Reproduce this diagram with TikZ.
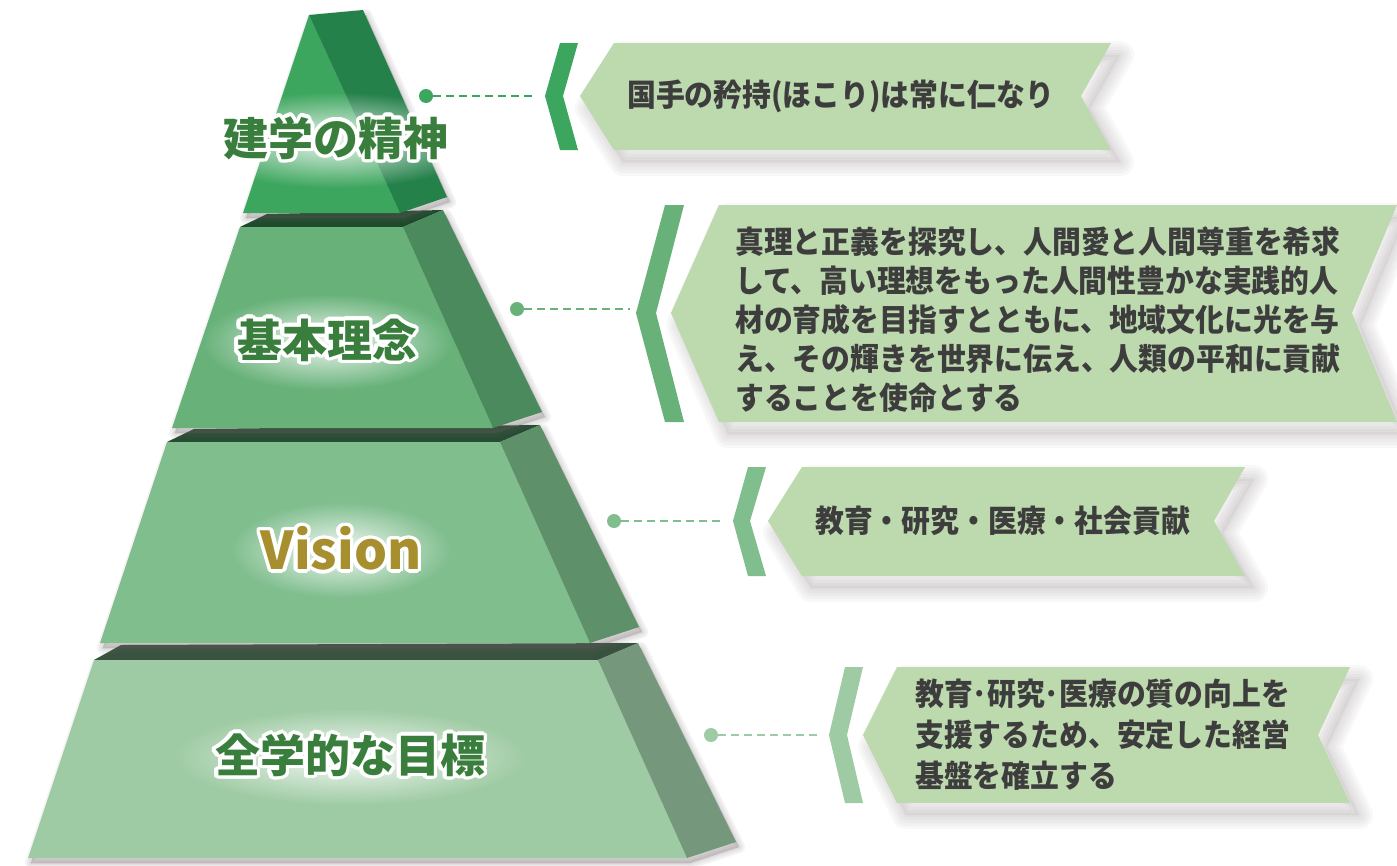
\documentclass[tikz,border=0pt]{standalone}
\usepackage{fontspec}
\newfontfamily\jp{Noto Sans CJK JP}
\newfontfamily\jpc{Noto Sans CJK JP}[FakeStretch=0.93]
\usepackage[copies]{contour}
\contourlength{3.5pt}
\contournumber{24}
\usetikzlibrary{fadings,calc}
\tikzfading[name=glowfade, inner color=transparent!0, outer color=transparent!100]
\definecolor{t1f}{HTML}{3DA65E}
\definecolor{t1s}{HTML}{24814A}
\definecolor{t2top}{HTML}{1C4A2B}
\definecolor{t2f}{HTML}{68B27A}
\definecolor{t2s}{HTML}{4A8A5C}
\definecolor{t3top}{HTML}{264C33}
\definecolor{t3f}{HTML}{80BE8E}
\definecolor{t3s}{HTML}{5E9169}
\definecolor{t4top}{HTML}{38523F}
\definecolor{t4f}{HTML}{9FCBA4}
\definecolor{t4s}{HTML}{75987C}
\definecolor{bannerfill}{HTML}{BDD9AE}
\definecolor{labelgreen}{HTML}{3A7E3E}
\definecolor{visiongold}{HTML}{A78F2F}
\definecolor{txtgray}{HTML}{3D3D3D}
\definecolor{shadowc}{HTML}{6F6264}
\newcommand\softshadow[1]{%
  \fill[shadowc,opacity=0.06] #1;
  \foreach \w in {28,22,16,10,4}{\draw[shadowc,opacity=0.045,line width=\w pt,line join=round] #1;}}
\newcommand\tiershadow[1]{%
  \foreach \w in {12,8,4,1}{\filldraw[shadowc,opacity=0.07,line width=\w pt,line join=round] #1;}}
\tikzset{
  lbl/.style={font=\jp\bfseries\fontsize{45}{50}\selectfont, text=labelgreen, inner sep=0pt},
  ctext/.style={font=\jpc\bfseries\fontsize{31}{39}\selectfont, text=txtgray, align=left, anchor=west, inner sep=0pt},
  dotc/.style={circle, inner sep=0pt, minimum size=14pt},
  dashc/.style={line width=2.5pt, dash pattern=on 8pt off 5pt},
  glow/.style={white, opacity=0.9, path fading=glowfade},
}
\begin{document}
\begin{tikzpicture}[x=1pt,y=-1pt]
\useasboundingbox (0,0) rectangle (1397,865);
\fill[white] (0,0) rectangle (1397,865);

% ---------------- pyramid (bottom to top) ----------------
% tier 4
\tiershadow{[xshift=3pt,yshift=-5pt] (94,660) -- (121,645) -- (638,643) -- (736,842) -- (687,858) -- (28,858) -- cycle}
\fill[t4top] (94,660) -- (121,645) -- (638,643) -- (598,660) -- cycle;
\fill[t4f] (94,660) -- (598,660) -- (687,858) -- (28,858) -- cycle;
\fill[t4s] (598,660) -- (638,643) -- (736,842) -- (687,858) -- cycle;
% tier 3
\tiershadow{[xshift=3pt,yshift=-5pt] (167,442) -- (194,429) -- (540,425) -- (639,627) -- (590,643) -- (100,643) -- cycle}
\fill[t3top] (167,442) -- (194,429) -- (540,425) -- (500,442) -- cycle;
\fill[t3f] (167,442) -- (500,442) -- (590,643) -- (100,643) -- cycle;
\fill[t3s] (500,442) -- (540,425) -- (639,627) -- (590,643) -- cycle;
% tier 2
\tiershadow{[xshift=3pt,yshift=-5pt] (240,227) -- (267,214) -- (443,210) -- (542,412) -- (493,428) -- (172,428) -- cycle}
\fill[t2top] (240,227) -- (267,214) -- (443,210) -- (403,227) -- cycle;
\fill[t2f] (240,227) -- (403,227) -- (493,428) -- (172,428) -- cycle;
\fill[t2s] (403,227) -- (443,210) -- (542,412) -- (493,428) -- cycle;
% tier 1
\tiershadow{[xshift=3pt,yshift=-5pt] (309,15) -- (363,10) -- (447,197) -- (400,213) -- (243,213) -- cycle}
\fill[t1f] (309,15) -- (400,213) -- (243,213) -- cycle;
\fill[t1s] (309,15) -- (363,10) -- (447,197) -- (400,213) -- cycle;

% ---------------- pyramid labels ----------------
\fill[glow] (336,140) ellipse (150 and 48);
\node[lbl] (l1) at (336,140) {\contour{white}{建学の精神}};
\fill[glow] (327,342) ellipse (125 and 48);
\node[lbl] (l2) at (327,342) {\contour{white}{基本理念}};
\fill[glow] (341,550) ellipse (110 and 48);
\node[lbl,text=visiongold,font=\jp\bfseries\fontsize{52}{56}\selectfont] (l3) at (341,550) {\contour{white}{Vision}};
\fill[glow] (350,757) ellipse (175 and 48);
\node[lbl] (l4) at (350,757) {\contour{white}{全学的な目標}};

% ---------------- callout 1 ----------------
\softshadow{[xshift=9pt,yshift=-12pt] (614,43) -- (1111,43) -- (1081,96) -- (1111,150) -- (614,150) -- (580,96) -- cycle}
\fill[bannerfill] (614,43) -- (1111,43) -- (1081,96) -- (1111,150) -- (614,150) -- (580,96) -- cycle;
\fill[t1f] (545,96) -- (560,43) -- (578,43) -- (563,96) -- (578,150) -- (560,150) -- cycle;
\node[dotc,fill=t1f] (d1) at (426,96) {};
\coordinate (e1) at (534,96);
\draw[dashc,t1f] (d1) -- (e1);
\node[ctext] (c1) at (627,96) {国手の矜持(ほこり)は常に仁なり};

% ---------------- callout 2 ----------------
\softshadow{[xshift=9pt,yshift=-12pt] (719,205) -- (1397,205) -- (1352,313) -- (1397,422) -- (719,422) -- (671,313) -- cycle}
\fill[bannerfill] (719,205) -- (1397,205) -- (1352,313) -- (1397,422) -- (719,422) -- (671,313) -- cycle;
\fill[t2f] (636,313) -- (665,205) -- (684,205) -- (656,313) -- (684,422) -- (665,422) -- cycle;
\node[dotc,fill=t2f] (d2) at (517,309) {};
\coordinate (e2) at (630,309);
\draw[dashc,t2f] (d2) -- (e2);
\node[ctext] (c2) at (735,320) {真理と正義を探究し、人間愛と人間尊重を希求\\して、高い理想をもった人間性豊かな実践的人\\材の育成を目指すとともに、地域文化に光を与\\え、その輝きを世界に伝え、人類の平和に貢献\\することを使命とする};

% ---------------- callout 3 ----------------
\softshadow{[xshift=9pt,yshift=-12pt] (802,467) -- (1245,467) -- (1214,521) -- (1245,576) -- (802,576) -- (768,521) -- cycle}
\fill[bannerfill] (802,467) -- (1245,467) -- (1214,521) -- (1245,576) -- (802,576) -- (768,521) -- cycle;
\fill[t3f] (733,521) -- (748,467) -- (766,467) -- (750,521) -- (766,576) -- (748,576) -- cycle;
\node[dotc,fill=t3f] (d3) at (614,521) {};
\coordinate (e3) at (724,521);
\draw[dashc,t3f] (d3) -- (e3);
\node[ctext] (c3) at (815,521) {教育・研究・医療・社会貢献};

% ---------------- callout 4 ----------------
\softshadow{[xshift=9pt,yshift=-12pt] (897,667) -- (1350,667) -- (1318,735) -- (1350,803) -- (897,803) -- (863,735) -- cycle}
\fill[bannerfill] (897,667) -- (1350,667) -- (1318,735) -- (1350,803) -- (897,803) -- (863,735) -- cycle;
\fill[t4f] (829,735) -- (845,667) -- (863,667) -- (847,735) -- (863,803) -- (845,803) -- cycle;
\node[dotc,fill=t4f] (d4) at (711,735) {};
\coordinate (e4) at (820,735);
\draw[dashc,t4f] (d4) -- (e4);
\node[ctext,font=\jpc\bfseries\fontsize{31}{41}\selectfont] (c4) at (915,735) {教育･研究･医療の質の向上を\\支援するため、安定した経営\\基盤を確立する};
\end{tikzpicture}
\end{document}
